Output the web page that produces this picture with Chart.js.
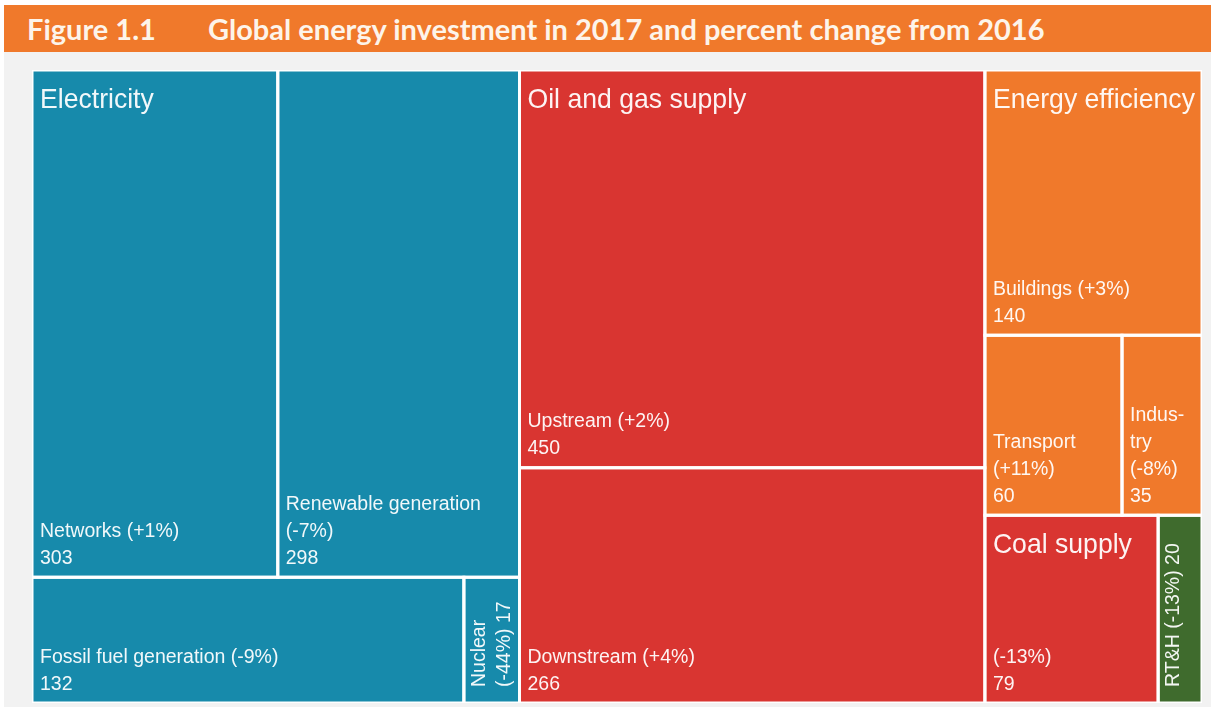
<!doctype html>
<html lang="en">
  <head>
    <meta charset="UTF-8">
    <title>Global energy investment 2017</title>
    <style>
      body { margin: 0; background: #fff; width: 1211px; height: 707px; overflow: hidden; position: relative; }
      .header {
        position: absolute; left: 4px; top: 5px; width: 1207px; height: 47px;
        background: #f0792b; color: #fdf4ea;
        font-family: Lato, "Open Sans", sans-serif; font-weight: 700; font-size: 29px;
        line-height: 47px; white-space: nowrap;
      }
      .header .fig { position: absolute; left: 23px; }
      .header .ttl { position: absolute; left: 204px; }
      .panel { position: absolute; left: 4px; top: 52px; width: 1207px; height: 655px; background: #f2f2f2; }
    </style>
  </head>
  <body>
    <div class="header"><span class="fig">Figure 1.1</span><span class="ttl">Global energy investment in 2017 and percent change from 2016</span></div>
    <div class="panel">
      <canvas id="treemap"></canvas>
    </div>

    <script src="https://cdn.jsdelivr.net/npm/chart.js@4/dist/chart.umd.min.js"></script>
    <script>
      // sectors and their sub-items (USD billion, 2017)
      const groups = ['Electricity', 'Oil and gas supply', 'Energy efficiency', 'Coal supply', 'RT&H'];
      const items = ['Networks', 'Renewable generation', 'Fossil fuel generation', 'Nuclear',
                     'Upstream', 'Downstream', 'Buildings', 'Transport', 'Indus-\ntry', '', 'RT&H'];
      const itemGroup = [0, 0, 0, 0, 1, 1, 2, 2, 2, 3, 4];
      const investment = [303, 298, 132, 17, 450, 266, 140, 60, 35, 79, 20];
      const change = ['+1%', '-7%', '-9%', '-44%', '+2%', '+4%', '+3%', '+11%', '-8%', '-13%', '-13%'];

      const groupColors = ['#178aab', '#d93531', '#f0792b', '#d93531', '#3f6b2d'];

      // layout box in scale units
      const W = 1170, H = 633;
      const RATIO = 1.3;

      // squarified layout (d3-style), fills node.rect = [x0, y0, x1, y1]
      function squarify(nodes, x0, y0, x1, y1) {
        let value = nodes.reduce((s, n) => s + n.value, 0);
        let i0 = 0, i1 = 0;
        const n = nodes.length;
        while (i0 < n) {
          const dx = x1 - x0, dy = y1 - y0;
          let sum = nodes[i1++].value, minV = sum, maxV = sum;
          const alpha = Math.max(dy / dx, dx / dy) / (value * RATIO);
          let beta = sum * sum * alpha;
          let minRatio = Math.max(maxV / beta, beta / minV);
          for (; i1 < n; ++i1) {
            const v = nodes[i1].value;
            sum += v;
            if (v < minV) minV = v;
            if (v > maxV) maxV = v;
            beta = sum * sum * alpha;
            const r = Math.max(maxV / beta, beta / minV);
            if (r > minRatio) { sum -= v; break; }
            minRatio = r;
          }
          const row = nodes.slice(i0, i1);
          if (dx < dy) {
            const yb = i1 >= n ? y1 : y0 + dy * sum / value;
            let x = x0;
            row.forEach(nd => { const w = dx * nd.value / sum; nd.rect = [x, y0, x + w, yb]; x += w; });
            y0 = yb;
          } else {
            const xb = i1 >= n ? x1 : x0 + dx * sum / value;
            let y = y0;
            row.forEach(nd => { const h = dy * nd.value / sum; nd.rect = [x0, y, xb, y + h]; y += h; });
            x0 = xb;
          }
          value -= sum;
          i0 = i1;
        }
      }

      // build tree: groups -> items
      const groupNodes = groups.map((g, gi) => {
        const children = [];
        investment.forEach((v, i) => { if (itemGroup[i] === gi) children.push({ index: i, value: v }); });
        return { index: gi, value: children.reduce((s, c) => s + c.value, 0), children };
      });
      squarify(groupNodes, 0, 0, W, H);
      const cells = [];
      groupNodes.forEach(g => {
        squarify(g.children, ...g.rect);
        g.children.forEach((c, k) => cells.push({ index: c.index, group: g.index, first: k === 0, rect: c.rect }));
      });

      const datasets = cells.map(c => {
        const [x0, y0, x1, y1] = c.rect;
        return {
          label: items[c.index] || groups[c.group],
          data: [{ x: x0, y: y0 }, { x: x1, y: y0 }, { x: x1, y: y1 }, { x: x0, y: y1 }, { x: x0, y: y0 }],
          showLine: true,
          fill: 'shape',
          backgroundColor: groupColors[c.group],
          borderColor: '#ffffff',
          borderWidth: 3,
          borderCapStyle: 'square',
          borderJoinStyle: 'miter',
          pointRadius: 0,
          tension: 0
        };
      });

      const FONT = '"Liberation Sans", Arial, sans-serif';
      const TEXT = 'rgba(255,255,255,0.94)';
      const LINE_H = 27;

      function wrapLines(ctx, name, tail, maxW) {
        const lines = name ? name.split('\n') : [];
        let cur = lines.length ? lines.pop() : '';
        tail.forEach(p => {
          const t = cur ? cur + ' ' + p : p;
          if (cur && ctx.measureText(t).width > maxW) { lines.push(cur); cur = p; } else cur = t;
        });
        if (cur) lines.push(cur);
        return lines;
      }

      const cellLabels = {
        id: 'cellLabels',
        afterDatasetsDraw(chart) {
          const { ctx, scales: { x, y } } = chart;
          ctx.save();
          ctx.fillStyle = TEXT;
          ctx.textAlign = 'left';
          ctx.textBaseline = 'alphabetic';
          cells.forEach(c => {
            const left = x.getPixelForValue(c.rect[0]), right = x.getPixelForValue(c.rect[2]);
            const top = y.getPixelForValue(c.rect[1]), bottom = y.getPixelForValue(c.rect[3]);
            const w = right - left, h = bottom - top;
            const i = c.index;
            const chg = '(' + change[i] + ')';
            ctx.font = '19.5px ' + FONT;

            if (w < 60) {
              // narrow cell: vertical text reading upwards
              const lines = wrapLines(ctx, items[i], [chg, String(investment[i])], h - 28);
              ctx.save();
              ctx.translate(left, bottom - 16);
              ctx.rotate(-Math.PI / 2);
              lines.forEach((ln, k) => ctx.fillText(ln, 0, 21 + k * 25));
              ctx.restore();
              return;
            }

            if (c.first) {
              ctx.save();
              ctx.font = '28px ' + FONT;
              ctx.translate(left + 8, top + 38);
              ctx.scale(0.95, 1);
              ctx.fillText(groups[c.group], 0, 0);
              ctx.restore();
              ctx.font = '19.5px ' + FONT;
            }

            const lines = wrapLines(ctx, items[i], [chg], w - 16);
            lines.push(String(investment[i]));
            const base = bottom - 13.5;
            lines.forEach((ln, k) => {
              ctx.fillText(ln, left + 8, base - (lines.length - 1 - k) * LINE_H);
            });
          });
          ctx.restore();
        }
      };

      new Chart(document.getElementById('treemap'), {
        type: 'scatter',
        data: { datasets },
        options: {
          responsive: true,
          maintainAspectRatio: false,
          animation: false,
          events: [],
          layout: { padding: { left: 28, right: 9, top: 18, bottom: 4 } },
          scales: {
            x: { type: 'linear', min: 0, max: W, display: false },
            y: { type: 'linear', min: 0, max: H, reverse: true, display: false }
          },
          plugins: {
            legend: { display: false },
            tooltip: { enabled: false },
            filler: { drawTime: 'beforeDatasetsDraw' }
          }
        },
        plugins: [cellLabels]
      });
    </script>
  </body>
</html>
